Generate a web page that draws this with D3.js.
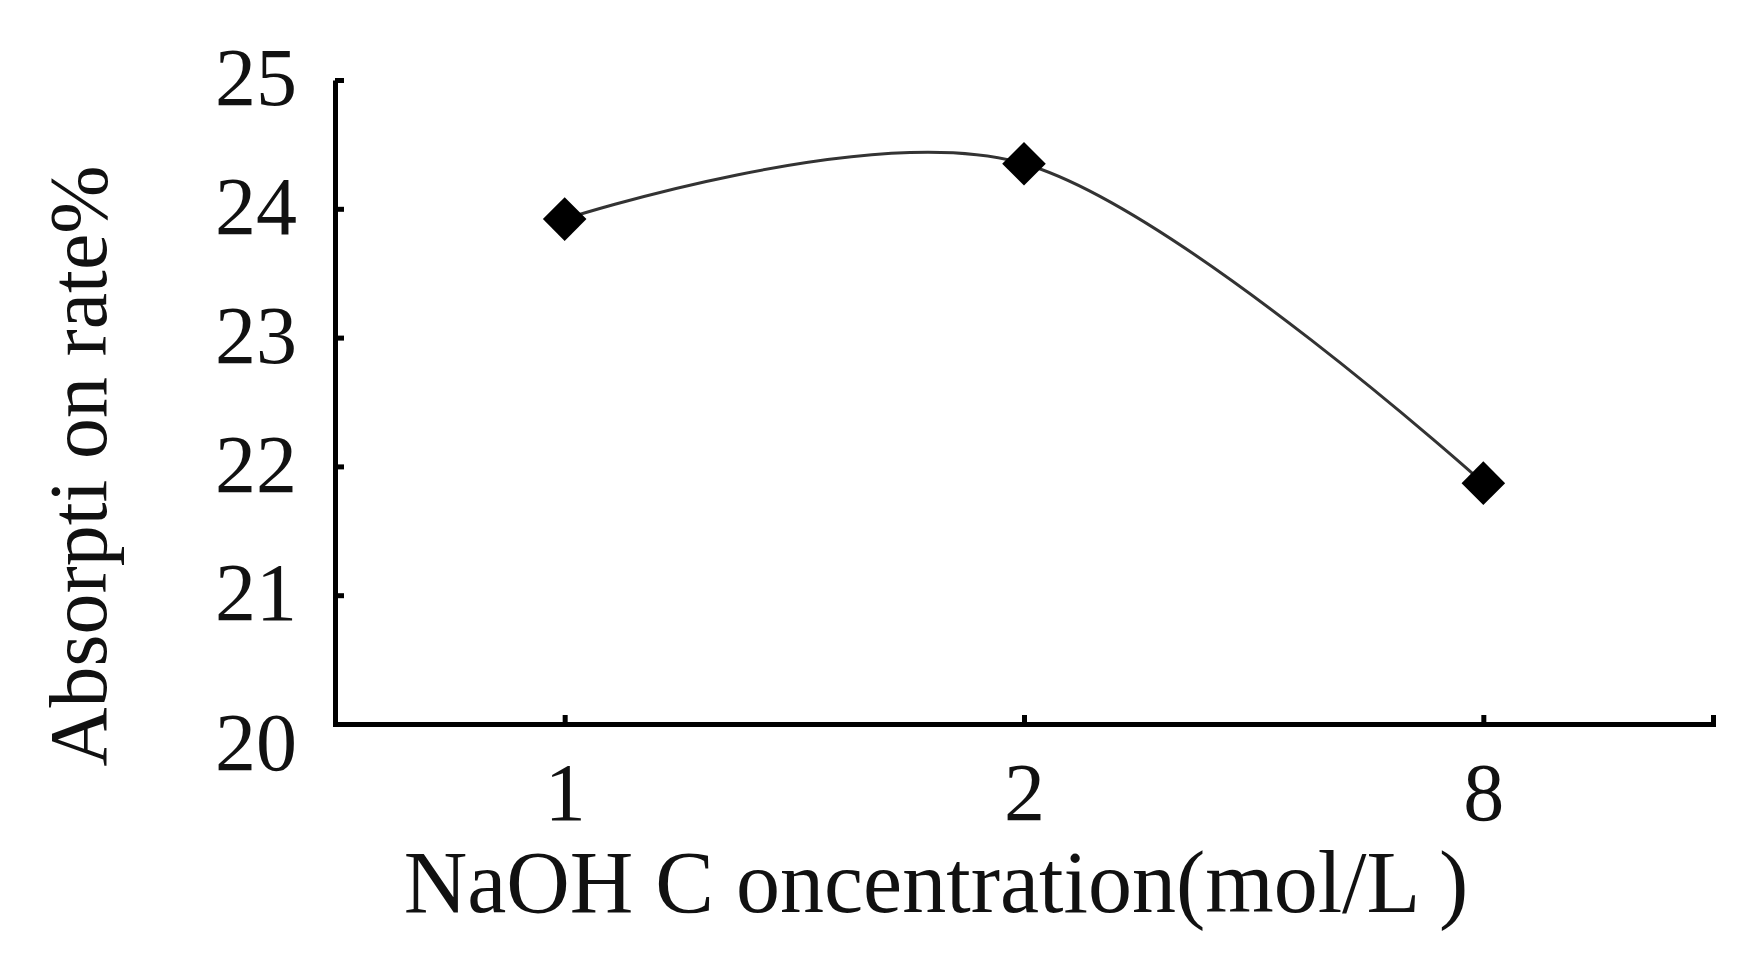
<!DOCTYPE html>
<html>
<head>
<meta charset="utf-8">
<script src="https://cdn.jsdelivr.net/npm/d3@7"></script>
<style>
  body { margin: 0; background: #fff; }
  svg { display: block; }
</style>
</head>
<body>
<div id="vis"></div>
<script>
// data
var categories = ["1", "2", "8"]
var rates = [23.92, 24.35, 21.87]
var yTicks = [20, 21, 22, 23, 24, 25]

var width = 1761, height = 960
var plotLeft = 335, plotRight = 1713, plotTop = 80, plotBottom = 724

var data = categories.map((c, i) => ({c: c, v: rates[i]}))

var x = d3.scalePoint()
  .domain(categories)
  .range([plotLeft, plotRight])
  .padding(0.5)

var y = d3.scaleLinear()
  .domain([20, 25])
  .range([plotBottom, plotTop])

var svg = d3.select("#vis")
  .append("svg")
  .attr("width", width)
  .attr("height", height)

var font = "'Liberation Serif', 'Times New Roman', serif"

// y axis, ticks point inward
var yAxis = svg.append("g")
  .attr("transform", `translate(${plotLeft},0)`)
  .call(d3.axisLeft(y).tickValues(yTicks).tickFormat(d3.format("d")).tickSizeInner(-9).tickSizeOuter(0).tickPadding(38))
yAxis.select(".domain").attr("stroke", "#000").attr("stroke-width", 5)
yAxis.selectAll(".tick line").attr("stroke", "#000").attr("stroke-width", 5)
yAxis.selectAll(".tick text")
  .attr("fill", "#111")
  .attr("dy", d => d == 20 ? "0.55em" : "0.3em")
  .style("font-family", font)
  .style("font-size", "82px")

// x axis
var xAxis = svg.append("g")
  .attr("transform", `translate(0,${plotBottom})`)
  .call(d3.axisBottom(x).tickSizeInner(-9).tickSizeOuter(-9).tickPadding(38))
xAxis.select(".domain").attr("stroke", "#000").attr("stroke-width", 5).attr("fill", "none")
xAxis.selectAll(".tick line").attr("stroke", "#000").attr("stroke-width", 5)
xAxis.selectAll(".tick text")
  .attr("fill", "#111")
  .style("font-family", font)
  .style("font-size", "82px")

// smoothed line
var line = d3.line()
  .x(d => x(d.c))
  .y(d => y(d.v))
  .curve(d3.curveCatmullRom.alpha(0))

svg.append("path")
  .datum(data)
  .attr("d", line)
  .attr("fill", "none")
  .attr("stroke", "#333")
  .attr("stroke-width", 3)

// diamond markers
svg.selectAll(".pt")
  .data(data)
  .enter()
  .append("path")
  .attr("class", "pt")
  .attr("d", d3.symbol(d3.symbolSquare, 950))
  .attr("transform", d => `translate(${x(d.c)},${y(d.v)}) rotate(45)`)
  .attr("fill", "#000")

// axis titles
svg.append("text")
  .attr("x", 936)
  .attr("y", 912)
  .attr("text-anchor", "middle")
  .attr("fill", "#111")
  .style("font-family", font)
  .style("font-size", "88px")
  .text("NaOH C oncentration(mol/L )")

svg.append("text")
  .attr("transform", "translate(106,466) rotate(-90)")
  .attr("text-anchor", "middle")
  .attr("fill", "#111")
  .style("font-family", font)
  .style("font-size", "82px")
  .text("Absorpti on rate%")
</script>
</body>
</html>
